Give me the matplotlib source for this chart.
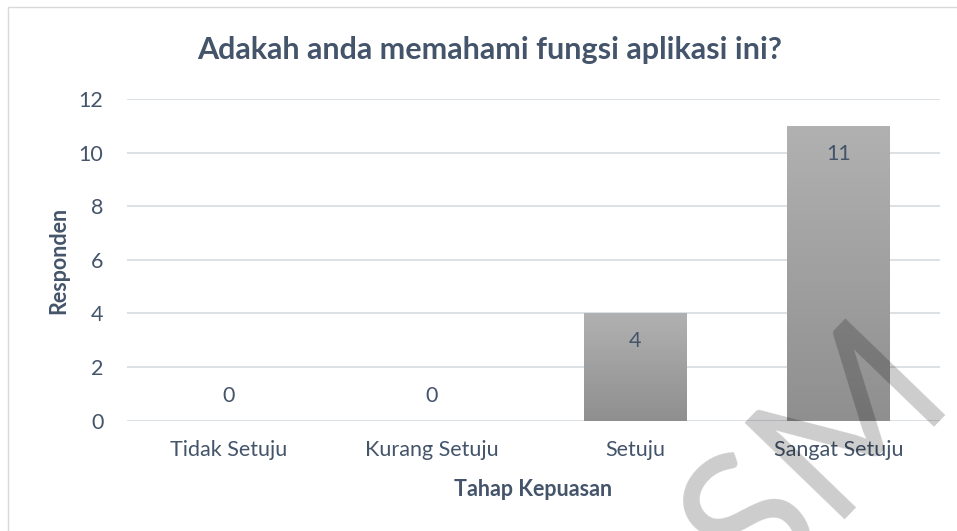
import matplotlib.pyplot as plt
import matplotlib.patches as mpatches
from matplotlib.colors import LinearSegmentedColormap
import numpy as np

categories = ['Tidak Setuju', 'Kurang Setuju', 'Setuju', 'Sangat Setuju']
responden = [0, 0, 4, 11]
yticks = [0, 2, 4, 6, 8, 10, 12]

title = 'Adakah anda memahami fungsi aplikasi ini?'
xlabel = 'Tahap Kepuasan'
ylabel = 'Responden'

textcolor = '#44546A'
gridcolor = '#D9DEE4'
fs = 15.5

plt.rcParams['font.family'] = ['Lato', 'DejaVu Sans']

W, H = 957, 531
fig = plt.figure(figsize=(W / 100, H / 100), dpi=100)
fig.patch.set_facecolor('white')

# chart frame (cropped on right and bottom)
frame = mpatches.Rectangle((8 / W, -0.05), 1.2, (H - 7) / H + 0.05, transform=fig.transFigure,
                           fill=False, edgecolor='#D9D9D9', linewidth=1)
fig.patches.append(frame)

ax = fig.add_axes([127 / W, (H - 420.7) / H, (940 - 127) / W, (420.7 - 99) / H])
x = np.arange(len(categories))
bars = ax.bar(x, responden, width=0.505, color='none', edgecolor='none', zorder=2)

# vertical grey gradient inside each bar, lighter at top
grey = LinearSegmentedColormap.from_list('grey', ['#B1B1B1', '#8F8F8F'])
grad = np.linspace(0, 1, 256).reshape(-1, 1)
for b in bars:
    h = b.get_height()
    if h <= 0:
        continue
    im = ax.imshow(grad, cmap=grey, extent=[b.get_x(), b.get_x() + b.get_width(), 0, h],
                   aspect='auto', zorder=2, interpolation='bilinear')
    im.set_clip_path(b)

ax.set_xlim(-0.5, len(categories) - 0.5)
ax.set_ylim(0, 12)
ax.set_yticks(yticks)
ax.set_xticks(x)
ax.set_xticklabels(categories)
ax.yaxis.grid(True, color=gridcolor, linewidth=1.3, zorder=0)
ax.set_axisbelow(True)
for s in ax.spines.values():
    s.set_visible(False)
ax.tick_params(axis='both', length=0, labelsize=fs, labelcolor=textcolor)
ax.tick_params(axis='y', pad=17)
ax.tick_params(axis='x', pad=14)

# data labels: inside end for bars, above baseline for zeros
for xi, v in zip(x, responden):
    off = -20 if v > 0 else 17.5
    ax.annotate(str(v), (xi, v), xytext=(0, off), textcoords='offset points',
                ha='center', va='center', fontsize=fs, color=textcolor, zorder=4)

fig.text(490 / W, 1 - 50 / H, title, ha='center', va='center', fontsize=22,
         fontweight='bold', color=textcolor)
fig.text(533 / W, 1 - 490 / H, xlabel, ha='center', va='center', fontsize=fs,
         fontweight='bold', color=textcolor)
fig.text(58.5 / W, 1 - 260 / H, ylabel, ha='center', va='center', fontsize=fs,
         fontweight='bold', color=textcolor, rotation=90)

# watermark
fig.text(818 / W, 1 - 462 / H, 'SM', ha='center', va='center', fontsize=140,
         color='black', alpha=0.2, rotation=46, zorder=10)

fig.savefig('out.png', dpi=100)
